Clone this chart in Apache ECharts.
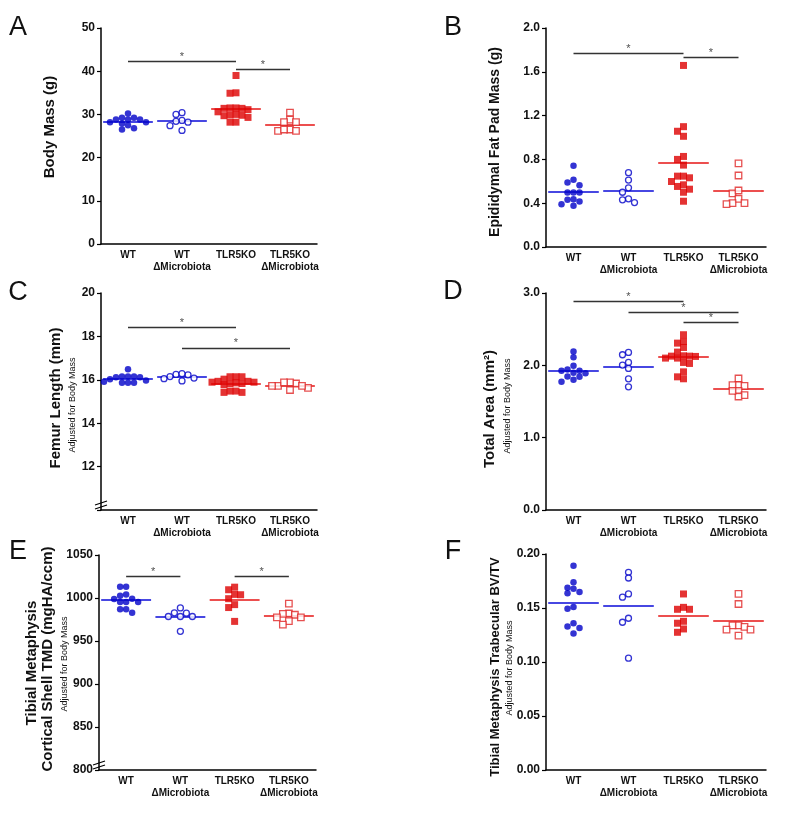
<!DOCTYPE html>
<html><head><meta charset="utf-8">
<script src="https://cdn.jsdelivr.net/npm/echarts@6/dist/echarts.min.js"></script>
<style>html,body{margin:0;padding:0;background:#fff}#c{width:800px;height:820px}</style>
</head><body><div id="c"></div>
<script>
// ---------- data ----------
const groups = ['WT', 'WT\nΔMicrobiota', 'TLR5KO', 'TLR5KO\nΔMicrobiota'];

// A: Body Mass (g)
const massTicks = [0, 10, 20, 30, 40, 50];
const massWT = [28.2, 29.2, 27.9, 28.8, 26.8, 28.8, 26.5, 28.8, 27.5, 29.2, 28.2, 30.2];
const massWTdM = [30.4, 28.6, 27.4, 28.2, 26.3, 28.4, 30.0];
const massKO = [39.0, 34.9, 35.0, 31.5, 31.5, 31.1, 31.4, 31.4, 30.6, 29.8, 29.7, 30.0, 29.9, 28.2, 28.2, 29.3];
const massKOdM = [30.4, 28.8, 28.2, 28.2, 26.5, 26.2, 26.2, 26.5];
const massMeans = [28.3, 28.5, 31.3, 27.7];
const massSig = [[0, 2, 42.3], [2, 3, 40.5]];

// B: Epididymal Fat Pad Mass (g)
const fatTicks = [0, 0.4, 0.8, 1.2, 1.6, 2.0];
const fatWT = [0.742, 0.565, 0.589, 0.614, 0.498, 0.498, 0.498, 0.431, 0.391, 0.376, 0.415, 0.437];
const fatWTdM = [0.679, 0.611, 0.54, 0.50, 0.431, 0.406, 0.44];
const fatKO = [1.658, 1.099, 1.057, 1.011, 0.80, 0.827, 0.748, 0.647, 0.632, 0.647, 0.598, 0.568, 0.528, 0.553, 0.50, 0.418];
const fatKOdM = [0.763, 0.653, 0.489, 0.516, 0.44, 0.40, 0.391, 0.40];
const fatMeans = [0.507, 0.516, 0.769, 0.51];
const fatSig = [[0, 2, 1.768], [2, 3, 1.731]];

// C: Femur Length (mm)
const femurTicks = [10, 12, 14, 16, 18, 20];
const femurWT = [16.12, 16.02, 15.91, 15.86, 15.86, 15.86, 15.97, 16.12, 16.15, 16.15, 16.15, 16.49];
const femurWTdM = [16.25, 16.15, 16.05, 15.95, 16.08, 16.23, 16.28];
const femurKO = [16.14, 16.14, 16.03, 16.14, 15.93, 15.89, 15.83, 15.77, 15.83, 15.86, 15.89, 15.93, 15.48, 15.42, 15.42, 15.48];
const femurKOdM = [15.83, 15.72, 15.63, 15.88, 15.53, 15.88, 15.72, 15.72];
const femurMeans = [16.05, 16.14, 15.80, 15.71];
const femurSig = [[0, 2, 18.42], [1, 3, 17.47]];

// D: Total Area (mm²)
const areaTicks = [0, 1, 2, 3];
const areaWT = [2.192, 2.113, 1.994, 1.943, 1.924, 1.897, 1.892, 1.924, 1.841, 1.80, 1.772, 1.846];
const areaWTdM = [2.178, 2.146, 2.040, 1.957, 2.003, 1.814, 1.703];
const areaKO = [2.423, 2.330, 2.307, 2.247, 2.183, 2.132, 2.127, 2.10, 2.10, 2.123, 2.127, 2.040, 2.026, 1.910, 1.841, 1.814];
const areaKOdM = [1.818, 1.726, 1.717, 1.726, 1.647, 1.587, 1.569, 1.647];
const areaMeans = [1.929, 1.975, 2.113, 1.680];
const areaSig = [[0, 2, 2.889], [1, 3, 2.732], [2, 3, 2.589]];

// E: Cortical Shell TMD (mgHA/ccm)
const tmdTicks = [800, 850, 900, 950, 1000, 1050];
const tmdWT = [1002.7, 998.9, 995.4, 995.4, 995.4, 999.2, 1004.2, 1013.0, 1013.0, 987.0, 982.8, 987.0];
const tmdWTdM = [988.5, 982.4, 978.5, 978.5, 978.5, 982.8, 961.3];
const tmdKO = [1012.6, 1009.6, 1004.2, 1003.8, 999.2, 992.3, 988.9, 972.8];
const tmdKOdM = [993.5, 982.0, 980.5, 981.6, 973.2, 977.4, 977.4, 969.0];
const tmdMeans = [998.1, 978.5, 998.1, 979.7];
const tmdSig = [[0, 1, 1024.9], [2, 3, 1024.9]];

// F: Trabecular BV/TV
const bvTicks = [0, 0.05, 0.10, 0.15, 0.20];
const bvWT = [0.1892, 0.1738, 0.1679, 0.1688, 0.1636, 0.1648, 0.151, 0.1494, 0.1359, 0.1315, 0.1328, 0.1263];
const bvWTdM = [0.183, 0.1778, 0.160, 0.163, 0.1405, 0.1368, 0.1035];
const bvKO = [0.163, 0.1488, 0.1488, 0.1506, 0.1359, 0.1377, 0.1306, 0.1275];
const bvKOdM = [0.163, 0.1537, 0.134, 0.1325, 0.134, 0.130, 0.130, 0.1245];
const bvMeans = [0.1547, 0.1522, 0.1429, 0.138];
const bvSig = [];

// ---------- layout / style ----------
const FONT = '"Liberation Sans", Arial, Helvetica, sans-serif';
const BLUE = '#0000c8', RED = '#dd0000', RED_OPEN = '#e02424';
const BLUE_LINE = '#0a0ad8', RED_LINE = '#e61414';
const CIRC = 6.5, SQ = 7;

const panels = [
  { letter: 'A', lx: 18, ly: 28, groupsData: [massWT, massWTdM, massKO, massKOdM], means: massMeans, sig: massSig, ticks: massTicks, dec: 0,
    grid: { left: 101, top: 28, width: 216, height: 216 },
    titles: [{ t: 'Body Mass (g)', x: 50, y: 127, f: 'bold 15px' }] },
  { letter: 'B', lx: 453, ly: 28, groupsData: [fatWT, fatWTdM, fatKO, fatKOdM], means: fatMeans, sig: fatSig, ticks: fatTicks, dec: 1,
    grid: { left: 546, top: 28, width: 220, height: 219 },
    titles: [{ t: 'Epididymal Fat Pad Mass (g)', x: 495, y: 142, f: 'bold 14px' }] },
  { letter: 'C', lx: 18, ly: 293, groupsData: [femurWT, femurWTdM, femurKO, femurKOdM], means: femurMeans, sig: femurSig, ticks: femurTicks, dec: 0, hideFirst: true, brk: true,
    grid: { left: 101, top: 293, width: 216, height: 217 },
    titles: [{ t: 'Femur Length (mm)', x: 56, y: 398, f: 'bold 15px' }, { t: 'Adjusted for Body Mass', x: 73, y: 405, f: 'normal 9px' }] },
  { letter: 'D', lx: 453, ly: 292, groupsData: [areaWT, areaWTdM, areaKO, areaKOdM], means: areaMeans, sig: areaSig, ticks: areaTicks, dec: 1,
    grid: { left: 546, top: 293, width: 220, height: 217 },
    titles: [{ t: 'Total Area (mm²)', x: 490, y: 409, f: 'bold 15px' }, { t: 'Adjusted for Body Mass', x: 508, y: 406, f: 'normal 9px' }] },
  { letter: 'E', lx: 18, ly: 552, groupsData: [tmdWT, tmdWTdM, tmdKO, tmdKOdM], means: tmdMeans, sig: tmdSig, ticks: tmdTicks, dec: 0, brk: true,
    grid: { left: 99, top: 555, width: 217, height: 215 },
    titles: [{ t: 'Tibial Metaphysis', x: 32, y: 663, f: 'bold 15px' }, { t: 'Cortical Shell TMD (mgHA/ccm)', x: 48, y: 659, f: 'bold 15px' }, { t: 'Adjusted for Body Mass', x: 65, y: 664, f: 'normal 9px' }] },
  { letter: 'F', lx: 453, ly: 552, groupsData: [bvWT, bvWTdM, bvKO, bvKOdM], means: bvMeans, sig: bvSig, ticks: bvTicks, dec: 2,
    grid: { left: 546, top: 554, width: 220, height: 216 },
    titles: [{ t: 'Tibial Metaphysis Trabecular BV/TV', x: 495, y: 667, f: 'bold 13px' }, { t: 'Adjusted for Body Mass', x: 510, y: 668, f: 'normal 9px' }] }
];

const groupStyle = [
  { symbol: 'circle', symbolSize: CIRC, itemStyle: { color: BLUE } },
  { symbol: 'circle', symbolSize: CIRC - 0.5, itemStyle: { color: '#fff', borderColor: BLUE, borderWidth: 1.3 } },
  { symbol: 'rect', symbolSize: SQ, itemStyle: { color: RED } },
  { symbol: 'rect', symbolSize: SQ - 0.5, itemStyle: { color: '#fff', borderColor: RED_OPEN, borderWidth: 1.3 } }
];

// beeswarm: values -> slot indices (no overlap within a slot)
function swarm(vals, thr) {
  const order = vals.map((v, i) => i).sort((a, b) => vals[b] - vals[a]);
  const slots = {}; const out = new Array(vals.length);
  order.forEach(i => {
    const v = vals[i];
    for (let k = 0; k < 40; k++) {
      const s = k === 0 ? 0 : (k % 2 ? -Math.ceil(k / 2) : Math.ceil(k / 2));
      const arr = slots[s] || [];
      if (arr.every(u => Math.abs(u - v) >= thr)) { arr.push(v); slots[s] = arr; out[i] = s; break; }
    }
  });
  return out;
}

const chart = echarts.init(document.getElementById('c'), null, { renderer: 'canvas' });
const option = {
  animation: false, backgroundColor: '#fff', textStyle: { fontFamily: FONT },
  grid: [], xAxis: [], yAxis: [], series: [], graphic: []
};

panels.forEach((p, i) => {
  const t = p.ticks, min = t[0], max = t[t.length - 1];
  option.grid.push(Object.assign({ containLabel: false }, p.grid));
  option.xAxis.push({
    type: 'category', gridIndex: i, data: groups,
    axisLine: { onZero: false, lineStyle: { color: '#000', width: 1.5 } }, axisTick: { show: false },
    axisLabel: { fontFamily: FONT, fontWeight: 'bold', fontSize: 10, lineHeight: 12, color: '#111', margin: 5, interval: 0 },
    splitLine: { show: false }
  });
  option.xAxis.push({ type: 'value', gridIndex: i, min: 0, max: 4, show: false });
  option.yAxis.push({
    type: 'value', gridIndex: i, min: min, max: max, interval: t[1] - t[0],
    axisLine: { show: true, lineStyle: { color: '#000', width: 1.5 } },
    axisTick: { show: true, length: 4, lineStyle: { color: '#000', width: 1.2 } },
    splitLine: { show: false },
    axisLabel: { fontFamily: FONT, fontWeight: 'bold', fontSize: 12, color: '#111', margin: 6,
      formatter: v => (p.hideFirst && Math.abs(v - min) < 1e-9) ? '' : Number(v).toFixed(p.dec) }
  });
  const xi = 2 * i + 1;
  const unitsPerPx = (max - min) / p.grid.height;
  const step = 6 / (p.grid.width / 4);
  p.groupsData.forEach((vals, g) => {
    const offs = swarm(vals, 5.5 * unitsPerPx);
    option.series.push(Object.assign({
      type: 'scatter', xAxisIndex: xi, yAxisIndex: i, z: 4, silent: true,
      data: vals.map((v, k) => [g + 0.5 + offs[k] * step, v])
    }, groupStyle[g]));
  });
  option.series.push({
    type: 'lines', coordinateSystem: 'cartesian2d', xAxisIndex: xi, yAxisIndex: i, z: 3, silent: true,
    data: p.means.map((m, g) => ({ coords: [[g + 0.04, m], [g + 0.96, m]], lineStyle: { color: g < 2 ? BLUE_LINE : RED_LINE, width: 1.6, opacity: 1 } }))
  });
  if (p.sig.length) {
    option.series.push({
      type: 'lines', coordinateSystem: 'cartesian2d', xAxisIndex: xi, yAxisIndex: i, z: 3, silent: true,
      lineStyle: { color: '#333', width: 1.3, opacity: 1 },
      data: p.sig.map(s => ({ coords: [[s[0] + 0.5, s[2]], [s[1] + 0.5, s[2]]] }))
    });
    option.series.push({
      type: 'scatter', xAxisIndex: xi, yAxisIndex: i, symbolSize: 0.1, z: 3, silent: true,
      itemStyle: { color: 'rgba(0,0,0,0)' },
      label: { show: true, formatter: '*', position: 'top', distance: -1, fontSize: 11, color: '#222', fontFamily: FONT },
      data: p.sig.map(s => [(s[0] + s[1]) / 2 + 0.5, s[2]])
    });
  }
  option.graphic.push({ type: 'text', x: p.lx, y: p.ly, style: { text: p.letter, font: 'normal 27px ' + FONT, fill: '#111', align: 'center', verticalAlign: 'middle' } });
  p.titles.forEach(tt => option.graphic.push({
    type: 'text', x: tt.x, y: tt.y, rotation: Math.PI / 2,
    style: { text: tt.t, font: tt.f + ' ' + FONT, fill: '#111', align: 'center', verticalAlign: 'middle' }
  }));
  if (p.brk) {
    const bx = p.grid.left, by = p.grid.top + p.grid.height;
    [0, 4].forEach(d => option.graphic.push({
      type: 'line', shape: { x1: bx - 6, y1: by - 1 - d, x2: bx + 6, y2: by - 5 - d },
      style: { stroke: '#000', lineWidth: 1.2 }
    }));
  }
});

chart.setOption(option);
</script></body></html>
